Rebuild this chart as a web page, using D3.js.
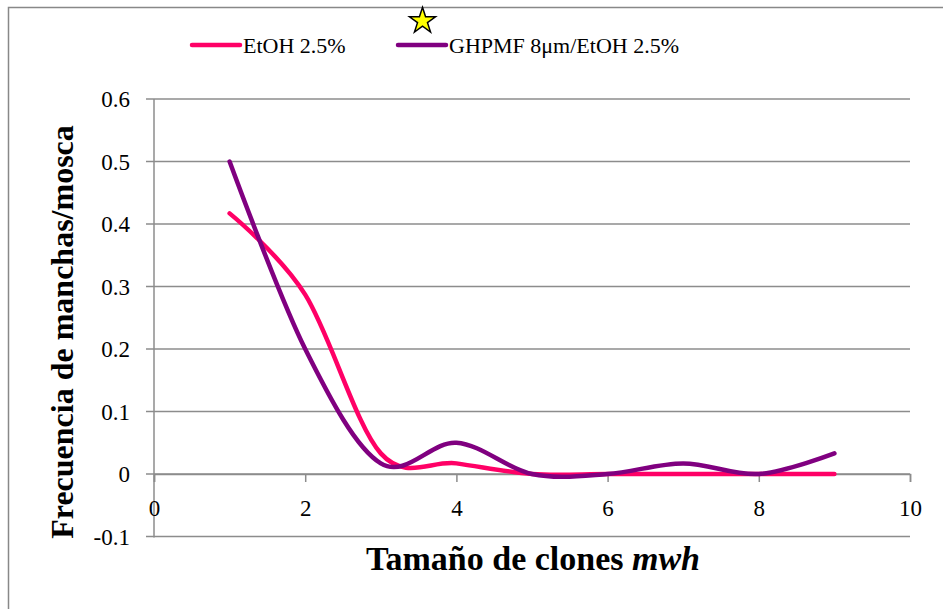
<!DOCTYPE html>
<html>
<head>
<meta charset="utf-8">
<script src="https://cdn.jsdelivr.net/npm/d3@7"></script>
<style>
  body { margin: 0; background: #fff; }
  text { font-family: "Liberation Serif", "DejaVu Serif", serif; }
</style>
</head>
<body>
<div id="chart"></div>
<script>
var sizes = [1, 2, 3, 4, 5, 6, 7, 8, 9];
var etoh = [0.417, 0.287, 0.033, 0.017, 0, 0, 0, 0, 0];
var ghpmf = [0.5, 0.2, 0.017, 0.05, 0, 0, 0.017, 0, 0.033];
var seriesNames = ["EtOH 2.5%", "GHPMF 8μm/EtOH 2.5%"];
var seriesColors = ["#ff0066", "#800080"];
var xTicks = [0, 2, 4, 6, 8, 10];
var yTicks = [-0.1, 0, 0.1, 0.2, 0.3, 0.4, 0.5, 0.6];

function init() {
    var w = 943, h = 609;
    var margin = { top: 99, right: 33, bottom: 72.5, left: 154 };
    var serif = "Liberation Serif";

    var svg = d3.select("#chart").append("svg")
        .attr("width", w)
        .attr("height", h);

    // outer chart border (runs off the right and bottom edges)
    svg.append("rect")
        .attr("x", 8.5).attr("y", 7.5)
        .attr("width", w + 10).attr("height", h + 10)
        .attr("fill", "none").attr("stroke", "#888").attr("stroke-width", 1.5);

    var x = d3.scaleLinear().domain([0, 10]).range([margin.left, w - margin.right]);
    var y = d3.scaleLinear().domain([-0.1, 0.6]).range([h - margin.bottom, margin.top]);

    // horizontal gridlines
    svg.append("g").selectAll("line")
        .data(yTicks)
        .enter().append("line")
        .attr("x1", margin.left - 8).attr("x2", x(10))
        .attr("y1", d => y(d)).attr("y2", d => y(d))
        .attr("stroke", "#8c8c8c").attr("stroke-width", 1.5);

    // y axis line
    svg.append("line")
        .attr("x1", x(0)).attr("x2", x(0))
        .attr("y1", y(0.6)).attr("y2", y(-0.1) + 1)
        .attr("stroke", "#8c8c8c").attr("stroke-width", 1.5);

    // x axis sits at y = 0
    var xAxis = svg.append("g")
        .attr("transform", `translate(0,${y(0)})`)
        .call(d3.axisBottom(x).tickValues(xTicks).tickSize(8).tickPadding(18).tickFormat(d3.format("d")));
    xAxis.select(".domain").attr("stroke", "#8c8c8c").attr("stroke-width", 1.5);
    xAxis.selectAll(".tick line").attr("stroke", "#8c8c8c").attr("stroke-width", 1.5);
    xAxis.selectAll(".tick text")
        .attr("font-family", serif)
        .attr("font-size", 23).attr("fill", "#000");

    // y tick labels
    svg.append("g").selectAll("text")
        .data(yTicks)
        .enter().append("text")
        .attr("x", margin.left - 24)
        .attr("y", d => y(d))
        .attr("dy", "0.35em")
        .attr("text-anchor", "end")
        .attr("font-family", serif)
        .attr("font-size", 23)
        .text(d => String(d));

    var line = d3.line()
        .x((d, i) => x(sizes[i]))
        .y(d => y(d))
        .curve(d3.curveCatmullRom.alpha(0));

    [etoh, ghpmf].forEach(function(vals, k) {
        svg.append("path")
            .datum(vals)
            .attr("d", line)
            .attr("fill", "none")
            .attr("stroke", seriesColors[k])
            .attr("stroke-width", 4.5)
            .attr("stroke-linecap", "round")
            .attr("stroke-linejoin", "round");
    });

    // legend
    var legendX = [192, 398];
    seriesNames.forEach(function(name, k) {
        svg.append("line")
            .attr("x1", legendX[k]).attr("x2", legendX[k] + 48)
            .attr("y1", 45).attr("y2", 45)
            .attr("stroke", seriesColors[k]).attr("stroke-width", 4.5)
            .attr("stroke-linecap", "round");
        svg.append("text")
            .attr("x", legendX[k] + 51).attr("y", 45)
            .attr("dy", "0.35em")
            .attr("font-family", serif)
            .attr("font-size", 22)
            .text(name);
    });

    // star marker above the legend
    svg.append("path")
        .attr("d", d3.symbol(d3.symbolStar, 210)())
        .attr("transform", "translate(422.5,21)")
        .attr("fill", "#ffff00").attr("stroke", "#000").attr("stroke-width", 1.5);

    // axis titles
    svg.append("text")
        .attr("x", (x(0) + x(10)) / 2 + 1)
        .attr("y", 570)
        .attr("text-anchor", "middle")
        .attr("font-family", serif)
        .attr("font-size", 34).attr("font-weight", "bold")
        .html('Tamaño de clones <tspan font-style="italic">mwh</tspan>');

    svg.append("text")
        .attr("transform", "translate(73,332) rotate(-90)")
        .attr("text-anchor", "middle")
        .attr("font-family", serif)
        .attr("font-size", 32).attr("font-weight", "bold")
        .text("Frecuencia de manchas/mosca");
}

window.onload = init;
</script>
</body>
</html>
